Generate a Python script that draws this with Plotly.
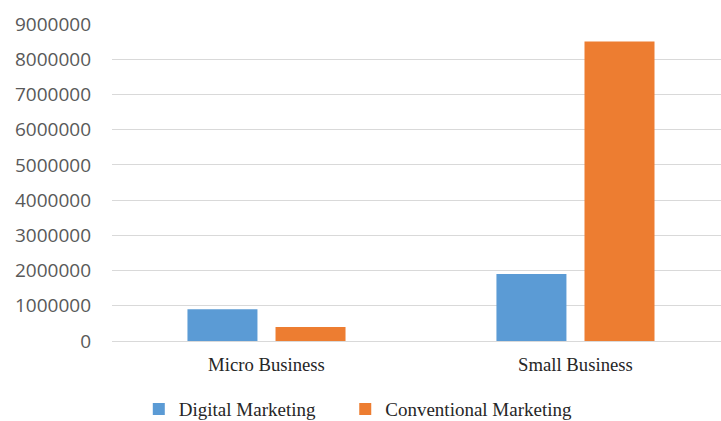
import plotly.graph_objects as go

# Data
categories = ["Micro Business", "Small Business"]
digital_marketing = [900000, 1900000]
conventional_marketing = [400000, 8500000]
y_ticks = [0, 1000000, 2000000, 3000000, 4000000, 5000000, 6000000, 7000000, 8000000, 9000000]

BLUE = "#5B9BD5"
ORANGE = "#ED7D31"
SERIF = "Liberation Serif, Times New Roman, serif"
legend_font = dict(family=SERIF, size=19, color="#262626")

fig = go.Figure()
fig.add_trace(go.Bar(name="Digital Marketing", x=categories, y=digital_marketing,
                     marker=dict(color=BLUE, line=dict(width=0)), legend="legend"))
fig.add_trace(go.Bar(name="Conventional Marketing", x=categories, y=conventional_marketing,
                     marker=dict(color=ORANGE, line=dict(width=0)), legend="legend2"))

fig.update_layout(
    width=721, height=421,
    margin=dict(l=112, r=0, t=24, b=80, autoexpand=False),
    paper_bgcolor="white", plot_bgcolor="white",
    barmode="group", bargap=0.43, bargroupgap=0.205,
    showlegend=True,
    legend=dict(orientation="h", x=0.044, xanchor="left", y=-0.215, yanchor="middle",
                font=legend_font, bgcolor="rgba(0,0,0,0)"),
    legend2=dict(orientation="h", x=0.383, xanchor="left", y=-0.215, yanchor="middle",
                 font=legend_font, bgcolor="rgba(0,0,0,0)"),
)
fig.update_xaxes(range=[-0.5, 1.471], showgrid=False, showline=False, ticks="",
                 tickfont=dict(family=SERIF, size=18.7, color="#262626"),
                 ticklabelstandoff=10)
fig.update_yaxes(range=[0, 9000000], tickvals=y_ticks, ticktext=[str(v) for v in y_ticks],
                 showgrid=True, gridcolor="#D9D9D9", gridwidth=1.3,
                 zeroline=True, zerolinecolor="#D9D9D9", zerolinewidth=1.3,
                 showline=False, ticks="",
                 tickfont=dict(family="Open Sans, sans-serif", size=19, color="#595959"),
                 ticklabelstandoff=20)

fig.write_html("out.html")
